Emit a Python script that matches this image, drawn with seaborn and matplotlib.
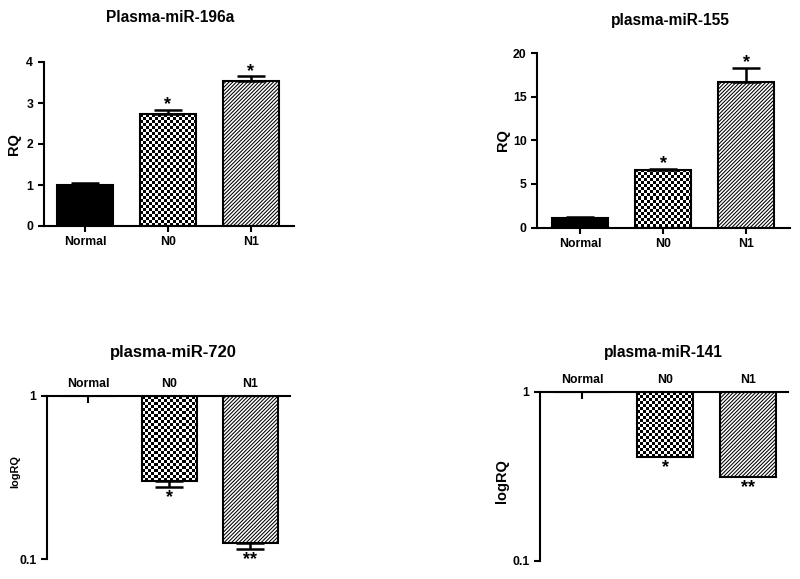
import numpy as np
import pandas as pd
import matplotlib
matplotlib.use("Agg")
import matplotlib.pyplot as plt
import seaborn as sns

# ---------------- data ----------------
groups = ["Normal", "N0", "N1"]

title_196a = "Plasma-miR-196a"
rq_196a = [1.00, 2.73, 3.54]
err_196a = [0.04, 0.11, 0.11]
stars_196a = ["", "*", "*"]

title_155 = "plasma-miR-155"
rq_155 = [1.10, 6.55, 16.75]
err_155 = [0.05, 0.20, 1.55]
stars_155 = ["", "*", "*"]

title_720 = "plasma-miR-720"
rq_720 = [1.00, 0.303, 0.1265]
err_720 = [0.0, 0.027, 0.011]
stars_720 = ["", "*", "**"]

title_141 = "plasma-miR-141"
rq_141 = [1.00, 0.412, 0.315]
err_141 = [0.0, 0.0, 0.0]
stars_141 = ["", "*", "**"]

# ---------------- style ----------------
sns.set_style("ticks")
plt.rcParams["font.family"] = ["Liberation Sans", "DejaVu Sans"]
plt.rcParams["font.weight"] = "bold"
plt.rcParams["hatch.linewidth"] = 0.75
plt.rcParams["axes.linewidth"] = 1.5
for k in ("text.color", "axes.labelcolor", "xtick.color", "ytick.color",
          "axes.edgecolor"):
    plt.rcParams[k] = "black"

W, H = 800, 579
fig = plt.figure(figsize=(W / 100, H / 100), dpi=100)


def rect(l, t, r, b):
    return [l / W, 1 - b / H, (r - l) / W, (b - t) / H]


def add_checker(ax, patch, cell=3.0):
    bb = patch.get_window_extent()
    inv = ax.transAxes.inverted()
    (x0, y0), (x1, y1) = inv.transform([[bb.x0, bb.y0], [bb.x1, bb.y1]])
    nx = max(1, int(round(bb.width / cell)))
    ny = max(1, int(round(bb.height / cell)))
    arr = np.indices((ny, nx)).sum(0) % 2
    xl, yl = ax.get_xlim(), ax.get_ylim()
    im = ax.imshow(arr, cmap="gray", vmin=0, vmax=1, interpolation="nearest",
                   extent=(x0, x1, y0, y1), transform=ax.transAxes,
                   aspect="auto", zorder=patch.get_zorder() - 0.01)
    im.set_clip_path(patch)
    patch.set_facecolor("none")
    ax.set_xlim(xl)
    ax.set_ylim(yl)


def panel(box, xlim, title, tpos, tsize, vals, errs, stars, log,
          yticks, yticklabels, ylim, ylabel, ylab_pos, ylab_size):
    ax = fig.add_axes(rect(*box))
    df = pd.DataFrame({"group": groups, "value": vals})
    sns.barplot(data=df, x="group", y="value", hue="group", order=groups,
                hue_order=groups, palette=["black", "white", "white"],
                edgecolor="black", linewidth=1.5, width=0.68,
                errorbar=None, legend=False, ax=ax)
    ax.set_xlim(*xlim)
    patches = {int(round(p.get_x() + p.get_width() / 2)): p for p in ax.patches}
    if log:
        ax.set_yscale("log")
        for i, v in enumerate(vals):
            p = patches[i]
            p.set_y(v)
            p.set_height(1 - v)
    ax.set_ylim(*ylim)
    ax.set_yticks(yticks)
    ax.set_yticklabels(yticklabels)
    ax.yaxis.set_minor_locator(matplotlib.ticker.NullLocator())

    # patterns
    patches[2].set_hatch("/////////")
    add_checker(ax, patches[1])

    # error bars and stars
    for i, (v, e, s) in enumerate(zip(vals, errs, stars)):
        if log:
            if e > 0:
                ax.errorbar(i, v, yerr=[[e], [0]], fmt="none", ecolor="black",
                            elinewidth=1.8, capsize=10, capthick=1.8, zorder=3)
            if s:
                ax.annotate(s, (i, v - e), xytext=(0, -1.5), textcoords="offset points",
                            ha="center", va="top", fontsize=13, fontweight="bold")
        else:
            ax.errorbar(i, v, yerr=[[0], [e]], fmt="none", ecolor="black",
                        elinewidth=1.8, capsize=10, capthick=1.8, zorder=3)
            if s:
                ax.annotate(s, (i, v + e), xytext=(0, 0.5), textcoords="offset points",
                            ha="center", va="baseline", fontsize=13, fontweight="bold")

    ax.set_xlabel("")
    ax.set_ylabel(ylabel, fontsize=ylab_size, fontweight="bold")
    ax.yaxis.set_label_coords(*ylab_pos)
    ax.tick_params(axis="both", labelsize=8.8, width=1.5, length=4, colors="black")
    for lab in ax.get_xticklabels() + ax.get_yticklabels():
        lab.set_fontweight("bold")

    if log:
        ax.xaxis.tick_top()
        ax.tick_params(axis="x", direction="in", length=5, pad=4)
        for sp in ("right", "bottom"):
            ax.spines[sp].set_visible(False)
    else:
        for sp in ("right", "top"):
            ax.spines[sp].set_visible(False)
    fig.text(tpos[0] / W, 1 - tpos[1] / H, title, ha="center", va="center",
             fontsize=tsize, fontweight="bold")
    return ax


panel((43.5, 62, 294, 226), (-0.5, 2.52), title_196a, (170, 18), 11.2,
      rq_196a, err_196a, stars_196a, False, [0, 1, 2, 3, 4],
      ["0", "1", "2", "3", "4"], (0, 4), "RQ", (-0.09, 0.5), 10.5)

panel((537, 53.3, 790, 227.5), (-0.52, 2.53), title_155, (670, 20), 11.2,
      rq_155, err_155, stars_155, False, [0, 5, 10, 15, 20],
      ["0", "5", "10", "15", "20"], (0, 20), "RQ", (-0.105, 0.5), 10.5)

panel((47, 396, 290, 559.3), (-0.506, 2.49), title_720, (173, 353), 12.0,
      rq_720, err_720, stars_720, True, [0.1, 1], ["0.1", "1"], (0.1, 1),
      "logRQ", (-0.11, 0.54), 7.8)

panel((540, 392, 788, 560.7), (-0.506, 2.48), title_141, (663, 353), 11.2,
      rq_141, err_141, stars_141, True, [0.1, 1], ["0.1", "1"], (0.1, 1),
      "logRQ", (-0.125, 0.47), 10.5)

fig.savefig("out.png", dpi=100)
